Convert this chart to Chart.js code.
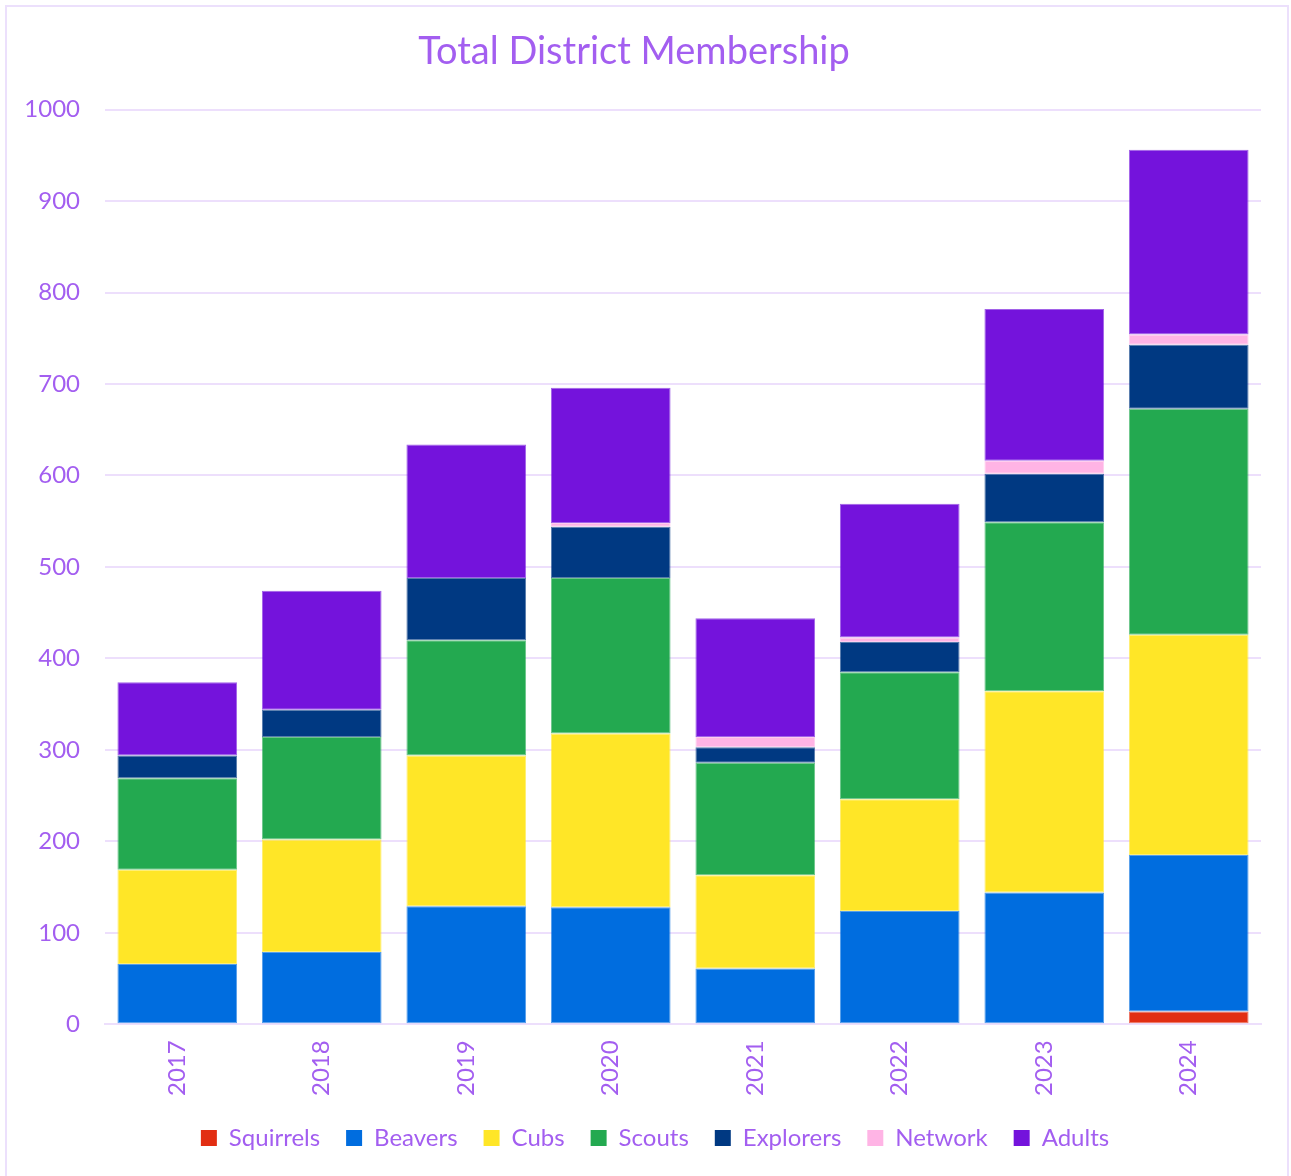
<!DOCTYPE html>
<html>
<head>
<meta charset="utf-8">
<script src="https://cdn.jsdelivr.net/npm/chart.js@4/dist/chart.umd.min.js"></script>
<style>
  html, body { margin: 0; padding: 0; background: #ffffff; }
  #wrap { position: absolute; left: 5px; top: 5px; width: 1284px; height: 1180px; border: 2px solid #ece0fc; box-sizing: border-box; }
  #c { display: block; }
</style>
</head>
<body>
<div id="wrap"><canvas id="c" width="1280" height="1176"></canvas></div>
<script>
const years = ["2017", "2018", "2019", "2020", "2021", "2022", "2023", "2024"];
const squirrels = [0, 0, 0, 0, 0, 0, 0, 14];
const beavers   = [66, 79, 129, 128, 61, 124, 144, 171];
const cubs      = [103, 123, 165, 190, 102, 122, 220, 241];
const scouts    = [100, 112, 126, 170, 123, 139, 185, 247];
const explorers = [25, 30, 68, 56, 17, 33, 53, 70];
const network   = [0, 0, 0, 4, 11, 5, 14, 11];
const adults    = [80, 130, 146, 148, 130, 146, 166, 202];
const yTicks    = [0, 100, 200, 300, 400, 500, 600, 700, 800, 900, 1000];

const textColor = "#a35ef0";
const gridColor = "#eddffc";
const fontFam = "Lato, 'Open Sans', sans-serif";

const series = [
  ["Squirrels", squirrels, "#e22e12"],
  ["Beavers", beavers, "#006ddf"],
  ["Cubs", cubs, "#ffe627"],
  ["Scouts", scouts, "#23a950"],
  ["Explorers", explorers, "#003982"],
  ["Network", network, "#ffb4e5"],
  ["Adults", adults, "#7413dc"]
];

const legendShift = {
  id: "legendShift",
  afterLayout(chart) {
    if (chart.legend) { chart.legend.left += 21; chart.legend.right += 21; }
  }
};

new Chart(document.getElementById("c"), {
  type: "bar",
  plugins: [legendShift],
  data: {
    labels: years,
    datasets: series.map(([label, data, color]) => ({
      label, data, backgroundColor: color,
      borderWidth: 1, borderColor: color + "aa", borderSkipped: false,
      barPercentage: 0.92, categoryPercentage: 0.9
    }))
  },
  options: {
    responsive: false,
    animation: false,
    layout: { padding: { left: 0, right: 26, top: 10, bottom: 23 } },
    plugins: {
      title: {
        display: true, text: "Total District Membership", color: textColor,
        font: { family: fontFam, size: 38, weight: "normal" },
        padding: { top: 12, bottom: 35 }
      },
      legend: {
        position: "bottom",
        labels: {
          color: textColor, boxWidth: 16, boxHeight: 16, padding: 26,
          font: { family: fontFam, size: 24 },
          generateLabels: (chart) => Chart.defaults.plugins.legend.labels.generateLabels(chart).map(l => Object.assign(l, { fillStyle: series[l.datasetIndex][2], strokeStyle: series[l.datasetIndex][2], lineWidth: 0 }))
        }
      },
      tooltip: { enabled: false }
    },
    scales: {
      x: {
        stacked: true,
        afterFit: (ax) => { ax.height = ax.height - 12; },
        grid: { display: false, drawTicks: false },
        border: { display: true, color: gridColor, width: 2 },
        ticks: {
          color: textColor, maxRotation: 90, minRotation: 90, padding: 16,
          font: { family: fontFam, size: 24 }
        }
      },
      y: {
        stacked: true, min: 0, max: 1000,
        afterBuildTicks: (ax) => { ax.ticks = yTicks.map(v => ({ value: v })); },
        afterFit: (ax) => { ax.width = 98; },
        grid: { color: gridColor, lineWidth: 2, drawTicks: false },
        border: { display: false },
        ticks: {
          color: textColor, padding: 25,
          font: { family: fontFam, size: 24 },
          callback: (v) => String(v)
        }
      }
    }
  }
});
</script>
</body>
</html>
